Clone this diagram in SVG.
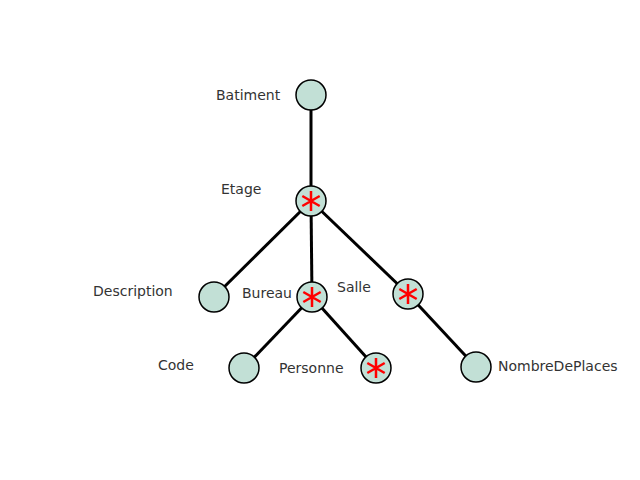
<svg xmlns="http://www.w3.org/2000/svg" width="640" height="480" viewBox="0 0 640 480">
<style>
.edge{stroke:#000;stroke-width:3;fill:none}
.node{fill:#c2e0d6;stroke:#000;stroke-width:1.5}
.star{stroke:#f00;stroke-width:2.5;fill:none}
.lbl{font-family:"DejaVu Sans",sans-serif;font-size:14px;fill:#333}
</style>
<defs>
<g id="ast"><path class="star" d="M0,-10V10M-8.7,-5L8.7,5M-8.7,5L8.7,-5"/></g>
</defs>
<rect width="640" height="480" fill="#fff"/>
<g id="connectors">
<line class="edge" x1="311" y1="95" x2="311" y2="201"/>
<line class="edge" x1="311" y1="201" x2="214" y2="297"/>
<line class="edge" x1="311" y1="201" x2="312" y2="297"/>
<line class="edge" x1="311" y1="201" x2="408" y2="294"/>
<line class="edge" x1="312" y1="297" x2="244" y2="368"/>
<line class="edge" x1="312" y1="297" x2="376" y2="368"/>
<line class="edge" x1="408" y1="294" x2="476" y2="367"/>
</g>
<g id="batiment"><circle class="node" cx="311" cy="95" r="15"/><text class="lbl" x="216" y="100">Batiment</text></g>
<g id="etage"><circle class="node" cx="311" cy="201" r="15"/><use href="#ast" x="311" y="201"/><text class="lbl" x="221" y="194">Etage</text></g>
<g id="description"><circle class="node" cx="214" cy="297" r="15"/><text class="lbl" x="93" y="296">Description</text></g>
<g id="bureau"><circle class="node" cx="312" cy="297" r="15"/><use href="#ast" x="312" y="297"/><text class="lbl" x="242" y="298">Bureau</text></g>
<g id="salle"><circle class="node" cx="408" cy="294" r="15"/><use href="#ast" x="408" y="294"/><text class="lbl" x="337" y="292">Salle</text></g>
<g id="code"><circle class="node" cx="244" cy="368" r="15"/><text class="lbl" x="158" y="370">Code</text></g>
<g id="personne"><circle class="node" cx="376" cy="368" r="15"/><use href="#ast" x="376" y="368"/><text class="lbl" x="279" y="373">Personne</text></g>
<g id="nombredeplaces"><circle class="node" cx="476" cy="367" r="15"/><text class="lbl" x="498" y="371">NombreDePlaces</text></g>
</svg>
